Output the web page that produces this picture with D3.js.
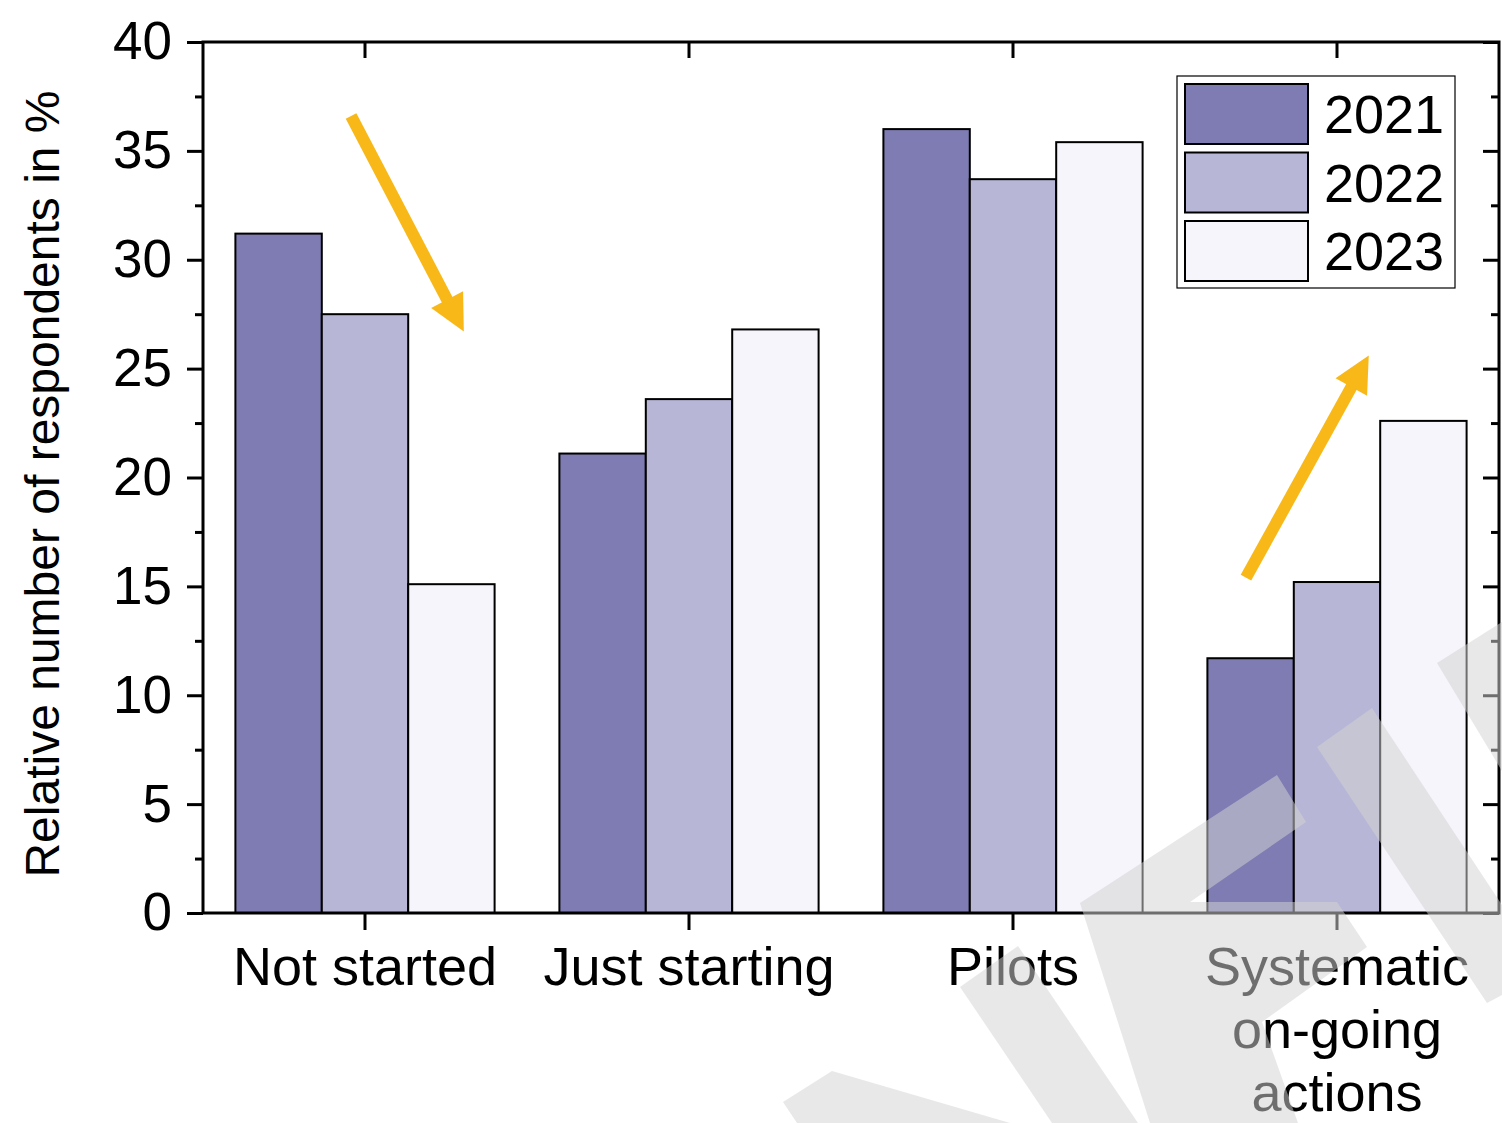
<!DOCTYPE html>
<html>
<head>
<meta charset="utf-8">
<script src="https://cdn.jsdelivr.net/npm/d3@7"></script>
<style>
  html, body { margin: 0; padding: 0; background: #ffffff; }
  svg { display: block; }
  text { font-family: "Liberation Sans", Arial, Helvetica, sans-serif; fill: #000; }
</style>
</head>
<body>
<svg id="chart" width="1502" height="1123"></svg>
<script>
// ---------------- data ----------------
const categories = ["Not started", "Just starting", "Pilots", "Systematic on-going actions"];
const categoryLines = [["Not started"], ["Just starting"], ["Pilots"], ["Systematic", "on-going", "actions"]];
const years = ["2021", "2022", "2023"];
const values2021 = [31.2, 21.1, 36.0, 11.7];
const values2022 = [27.5, 23.6, 33.7, 15.2];
const values2023 = [15.1, 26.8, 35.4, 22.6];
const yMajorTicks = [0, 5, 10, 15, 20, 25, 30, 35, 40];
const yMinorTicks = [2.5, 7.5, 12.5, 17.5, 22.5, 27.5, 32.5, 37.5];
const yTitle = "Relative number of respondents in %";
// trend arrows: [category index position, value] for tail and tip
const arrowDown = [[-0.043, 36.6], [0.305, 26.7]];
const arrowUp = [[2.719, 15.4], [3.098, 25.6]];

// ---------------- styles / layout ----------------
const seriesColors = ["#7E7CB2", "#B7B6D6", "#F5F5FB"];
const arrowColor = "#F8B818";
const margin = { left: 203, right: 1499, top: 42, bottom: 913 };
const fontSize = 53;

const svg = d3.select("#chart");
const series = [values2021, values2022, values2023];

const x = d3.scaleBand().domain(categories).range([margin.left, margin.right])
  .paddingInner(0.2).paddingOuter(0.1);
const xSub = d3.scaleBand().domain(years).range([0, x.bandwidth()]);
const xIdx = d3.scaleLinear().domain([0, categories.length - 1])
  .range([x(categories[0]) + x.bandwidth() / 2, x(categories[categories.length - 1]) + x.bandwidth() / 2]);
const y = d3.scaleLinear().domain([0, 40]).range([margin.bottom, margin.top]);

// ---------------- bars ----------------
const barData = [];
categories.forEach((c, ci) => {
  years.forEach((yr, si) => barData.push({ c, yr, si, v: series[si][ci] }));
});
svg.append("g").selectAll("rect").data(barData).join("rect")
  .attr("x", d => x(d.c) + xSub(d.yr))
  .attr("y", d => y(d.v))
  .attr("width", xSub.bandwidth())
  .attr("height", d => y(0) - y(d.v))
  .attr("fill", d => seriesColors[d.si])
  .attr("stroke", "#000")
  .attr("stroke-width", 2);

// ---------------- axes ----------------
function styleAxis(g) {
  g.select(".domain").remove();
  g.selectAll(".tick line").attr("stroke", "#000").attr("stroke-width", 3);
  g.selectAll(".tick text").attr("font-size", fontSize).attr("fill", "#000")
    .style("font-family", '"Liberation Sans", Arial, sans-serif');
}
// left
svg.append("g").attr("transform", `translate(${margin.left},0)`)
  .call(d3.axisLeft(y).tickValues(yMajorTicks).tickSize(16).tickPadding(15).tickFormat(d3.format("d")))
  .call(styleAxis);
svg.append("g").attr("transform", `translate(${margin.left},0)`)
  .call(d3.axisLeft(y).tickValues(yMinorTicks).tickSize(8).tickFormat(""))
  .call(styleAxis);
// right (inward)
svg.append("g").attr("transform", `translate(${margin.right},0)`)
  .call(d3.axisLeft(y).tickValues(yMajorTicks).tickSize(16).tickFormat(""))
  .call(styleAxis);
svg.append("g").attr("transform", `translate(${margin.right},0)`)
  .call(d3.axisLeft(y).tickValues(yMinorTicks).tickSize(8).tickFormat(""))
  .call(styleAxis);
// bottom
svg.append("g").attr("transform", `translate(0,${margin.bottom})`)
  .call(d3.axisBottom(x).tickSize(17).tickFormat(""))
  .call(styleAxis);
// top (inward)
svg.append("g").attr("transform", `translate(0,${margin.top})`)
  .call(d3.axisBottom(x).tickSize(16).tickFormat(""))
  .call(styleAxis);

// category labels
const catG = svg.append("g");
categories.forEach((c, ci) => {
  const t = catG.append("text")
    .attr("x", x(c) + x.bandwidth() / 2)
    .attr("y", 985)
    .attr("text-anchor", "middle")
    .attr("font-size", 54);
  categoryLines[ci].forEach((line, li) => {
    t.append("tspan").attr("x", x(c) + x.bandwidth() / 2)
      .attr("dy", li === 0 ? 0 : 63).text(line);
  });
});

// frame
svg.append("rect")
  .attr("x", margin.left).attr("y", margin.top)
  .attr("width", margin.right - margin.left).attr("height", margin.bottom - margin.top)
  .attr("fill", "none").attr("stroke", "#000").attr("stroke-width", 3);

// y title
svg.append("text")
  .attr("transform", `translate(59,484) rotate(-90)`)
  .attr("text-anchor", "middle")
  .attr("font-size", 48)
  .text(yTitle);

// ---------------- legend ----------------
const lg = svg.append("g");
lg.append("rect").attr("x", 1177).attr("y", 76).attr("width", 278).attr("height", 212)
  .attr("fill", "#fff").attr("stroke", "#000").attr("stroke-width", 1.2);
years.forEach((yr, i) => {
  const yy = 84 + i * 68.5;
  lg.append("rect").attr("x", 1185).attr("y", yy).attr("width", 123).attr("height", 60)
    .attr("fill", seriesColors[i]).attr("stroke", "#000").attr("stroke-width", 2);
  lg.append("text").attr("x", 1324).attr("y", yy + 49).attr("font-size", 54).text(yr);
});

// ---------------- arrows ----------------
function drawArrow(pts) {
  const [x0, y0] = [xIdx(pts[0][0]), y(pts[0][1])];
  const [x1, y1] = [xIdx(pts[1][0]), y(pts[1][1])];
  const len = Math.hypot(x1 - x0, y1 - y0);
  const ux = (x1 - x0) / len, uy = (y1 - y0) / len;
  const headL = 36, headW = 18;
  const bx = x1 - ux * headL, by = y1 - uy * headL;
  svg.append("line").attr("x1", x0).attr("y1", y0).attr("x2", bx + ux * 2).attr("y2", by + uy * 2)
    .attr("stroke", arrowColor).attr("stroke-width", 12);
  svg.append("polygon")
    .attr("points", [[x1, y1], [bx - uy * headW, by + ux * headW], [bx + uy * headW, by - ux * headW]].map(p => p.join(",")).join(" "))
    .attr("fill", arrowColor);
}
drawArrow(arrowDown);
drawArrow(arrowUp);

// ---------------- watermark overlay (decorative) ----------------
const watermarkShapes = [
  [[783,1102],[832,1071],[1010,1123],[797,1123]],
  [[960,987],[1018,946],[1138,1123],[1052,1123]],
  [[1080,903],[1277,775],[1306,822],[1190,902],[1337,902],[1367,947],[1262,1022],[1298,1123],[1150,1123]],
  [[1317,747],[1372,708],[1502,905],[1502,995],[1487,1003]],
  [[1437,663],[1502,622],[1502,771]]
];
svg.append("g").selectAll("polygon").data(watermarkShapes).join("polygon")
  .attr("points", d => d.map(p => p.join(",")).join(" "))
  .attr("fill", "rgb(211,211,211)").attr("fill-opacity", 0.52);
</script>
</body>
</html>
